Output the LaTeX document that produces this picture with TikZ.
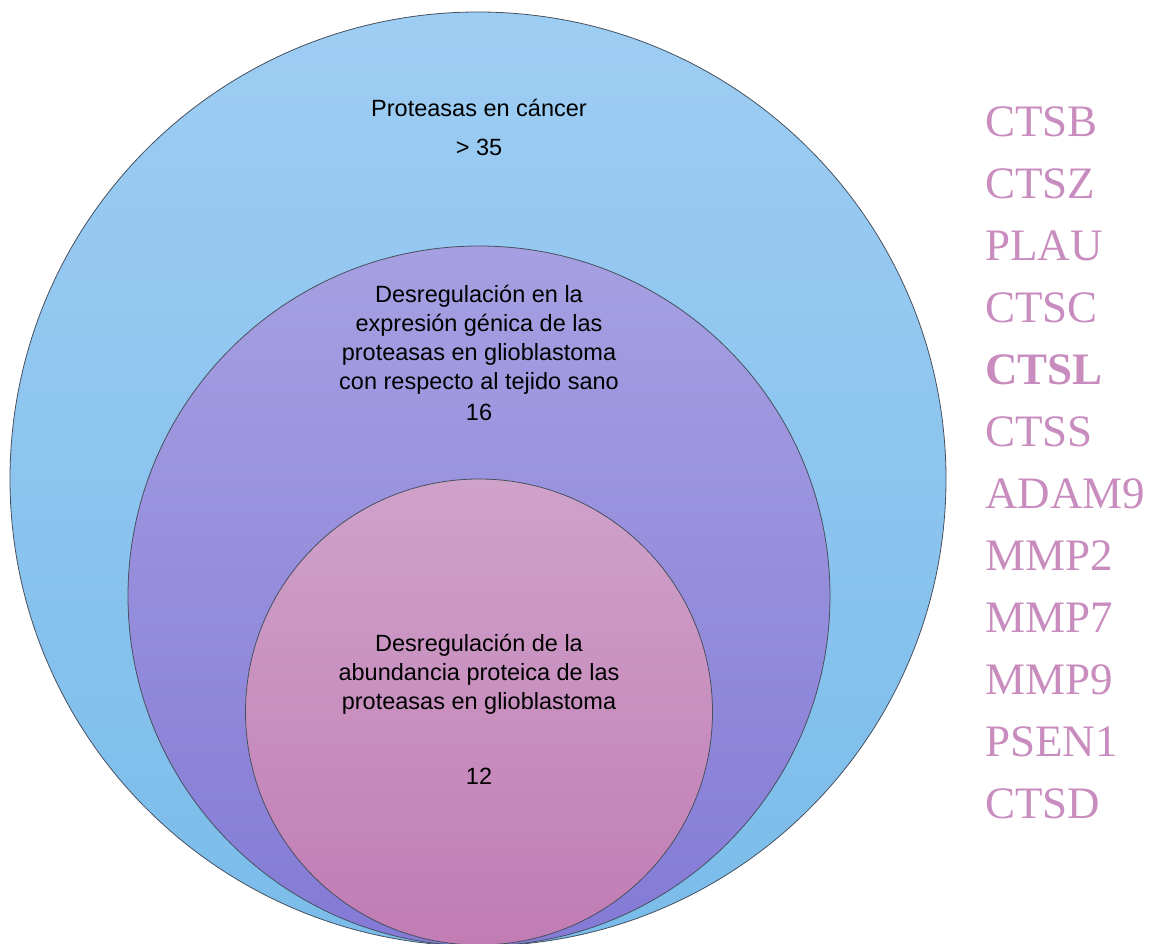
\documentclass[tikz,border=0pt]{standalone}
\usepackage{fontspec}
\setmainfont{Liberation Sans}
\newfontfamily\seriffont{Liberation Serif}
\usetikzlibrary{shapes.geometric}
\definecolor{outerTop}{RGB}{158,205,243}
\definecolor{outerBot}{RGB}{122,188,234}
\definecolor{midTop}{RGB}{166,160,226}
\definecolor{midBot}{RGB}{132,122,214}
\definecolor{inTop}{RGB}{207,162,202}
\definecolor{inBot}{RGB}{193,124,180}
\definecolor{geneCol}{RGB}{200,140,190}
\definecolor{edgeCol}{RGB}{70,80,95}
\tikzset{
  ring/.style={ellipse, draw=edgeCol, line width=0.8pt, inner sep=0pt},
  lbl/.style={font=\fontsize{23.5}{29}\selectfont, text=black, align=center, inner sep=0pt},
  gene/.style={font=\seriffont\fontsize{45}{45}\selectfont, text=geneCol, anchor=west, inner sep=0pt}
}
\begin{document}
\begin{tikzpicture}[x=1pt,y=-1pt]
\useasboundingbox (0,0) rectangle (1151,944);
\node[ring, top color=outerTop, bottom color=outerBot, minimum width=936pt, minimum height=934pt] (outer) at (478,479) {};
\node[ring, top color=midTop, bottom color=midBot, minimum width=702pt, minimum height=700pt] (mid) at (479,596) {};
\node[ring, top color=inTop, bottom color=inBot, minimum width=467pt, minimum height=466pt] (inner) at (479,712) {};

\node[lbl] (t1) at (479,108) {Proteasas en cáncer};
\node[lbl] (n1) at (479,147) {> 35};
\node[lbl] (t2) at (479,340) {Desregulación en la\\expresión génica de las\\proteasas en glioblastoma\\con respecto al tejido sano};
\node[lbl] (n2) at (479,412) {16};
\node[lbl] (t3) at (479,674) {Desregulación de la\\abundancia proteica de las\\proteasas en glioblastoma};
\node[lbl] (n3) at (479,776) {12};

\node[gene] (g1) at (985,122) {CTSB};
\node[gene] (g2) at (985,184) {CTSZ};
\node[gene] (g3) at (985,246) {PLAU};
\node[gene] (g4) at (985,308) {CTSC};
\node[gene] (g5) at (985,370) {\bfseries CTSL};
\node[gene] (g6) at (985,432) {CTSS};
\node[gene] (g7) at (985,494) {ADAM9};
\node[gene] (g8) at (985,556) {MMP2};
\node[gene] (g9) at (985,618) {MMP7};
\node[gene] (g10) at (985,680) {MMP9};
\node[gene] (g11) at (985,742) {PSEN1};
\node[gene] (g12) at (985,804) {CTSD};
\end{tikzpicture}
\end{document}
